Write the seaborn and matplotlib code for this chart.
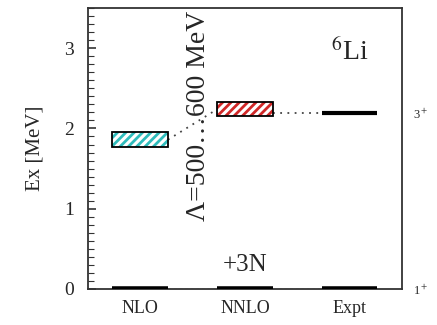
import numpy as np
import matplotlib
matplotlib.use("Agg")
import matplotlib.pyplot as plt
import seaborn as sns
from matplotlib.ticker import MultipleLocator

# level data (MeV)
categories = ["NLO", "NNLO", "Expt"]
ground_levels = [0.0, 0.0, 0.0]
band_low = [1.77, 2.15]      # 3+ state band, NLO and NNLO
band_high = [1.95, 2.33]
expt_3plus = 2.19
right_labels = ["1$^+$", "3$^+$"]
right_values = [0.0, expt_3plus]

sns.set_style("ticks")
plt.rcParams["font.family"] = ["Liberation Serif", "DejaVu Serif"]
plt.rcParams["mathtext.fontset"] = "stix"
plt.rcParams["hatch.linewidth"] = 2.0

fig = plt.figure(figsize=(4.37, 3.25), dpi=100)
ax = fig.add_axes([0.201, 0.111, 0.719, 0.864])

x = np.arange(len(categories))
w = 0.53

# ground states
ax.hlines(ground_levels, x - w / 2, x + w / 2, color="black", lw=4, zorder=4)
for i in range(len(x) - 1):
    ax.plot([x[i] + w / 2, x[i + 1] - w / 2], [0, 0], ls=(0, (2, 2)), color="gray", lw=1)

# theory bands
ax.bar(x[0], band_high[0] - band_low[0], bottom=band_low[0], width=w,
       facecolor="white", edgecolor="#2fbcbc", hatch="////", lw=0, zorder=3)
ax.bar(x[0], band_high[0] - band_low[0], bottom=band_low[0], width=w,
       facecolor="none", edgecolor="black", lw=1.3, zorder=3)
ax.bar(x[1], band_high[1] - band_low[1], bottom=band_low[1], width=w,
       facecolor="white", edgecolor="#d02828", hatch="////", lw=0, zorder=3)
ax.bar(x[1], band_high[1] - band_low[1], bottom=band_low[1], width=w,
       facecolor="none", edgecolor="black", lw=1.3, zorder=3)

# experiment
ax.hlines(expt_3plus, x[2] - w / 2, x[2] + w / 2, color="black", lw=3, zorder=4)

# connectors
ax.plot([x[0] + w / 2, x[1] - w / 2],
        [(band_low[0] + band_high[0]) / 2, (band_low[1] + band_high[1]) / 2],
        ls=(0, (1, 3)), color="#444444", lw=1.3)
ax.plot([x[1] + w / 2, x[2] - w / 2], [expt_3plus, expt_3plus],
        ls=(0, (1, 3)), color="#444444", lw=1.3)

ax.set_xlim(-0.5, 2.5)
ax.set_ylim(0, 3.5)
ax.set_xticks(x)
ax.set_xticklabels(categories, fontsize=13)
ax.tick_params(axis="x", length=0, pad=8)
ax.yaxis.set_major_locator(MultipleLocator(1))
ax.yaxis.set_minor_locator(MultipleLocator(0.1))
ax.tick_params(axis="y", which="both", direction="in", right=True, labelsize=14,
               color="#333333", pad=10)
ax.tick_params(axis="y", which="major", length=6, width=1.2)
ax.tick_params(axis="y", which="minor", length=4, width=0.8)
ax.set_ylabel("Ex [MeV]", fontsize=15, labelpad=14)
for s in ax.spines.values():
    s.set_linewidth(1.3)
    s.set_color("#333333")

ax2 = ax.twinx()
ax2.set_ylim(ax.get_ylim())
ax2.set_yticks(right_values)
ax2.set_yticklabels(right_labels, fontsize=9)
ax2.tick_params(axis="y", length=0, pad=8)
for s in ax2.spines.values():
    s.set_visible(False)

ax.text(0.56, 3.47, "Λ=500…600 MeV", rotation=90, ha="center", va="top", fontsize=20)
ax.text(2.0, 2.95, "$^6$Li", ha="center", va="center", fontsize=20)
ax.text(1.0, 0.3, "+3N", ha="center", va="center", fontsize=18)

fig.savefig("out.png", dpi=100)
